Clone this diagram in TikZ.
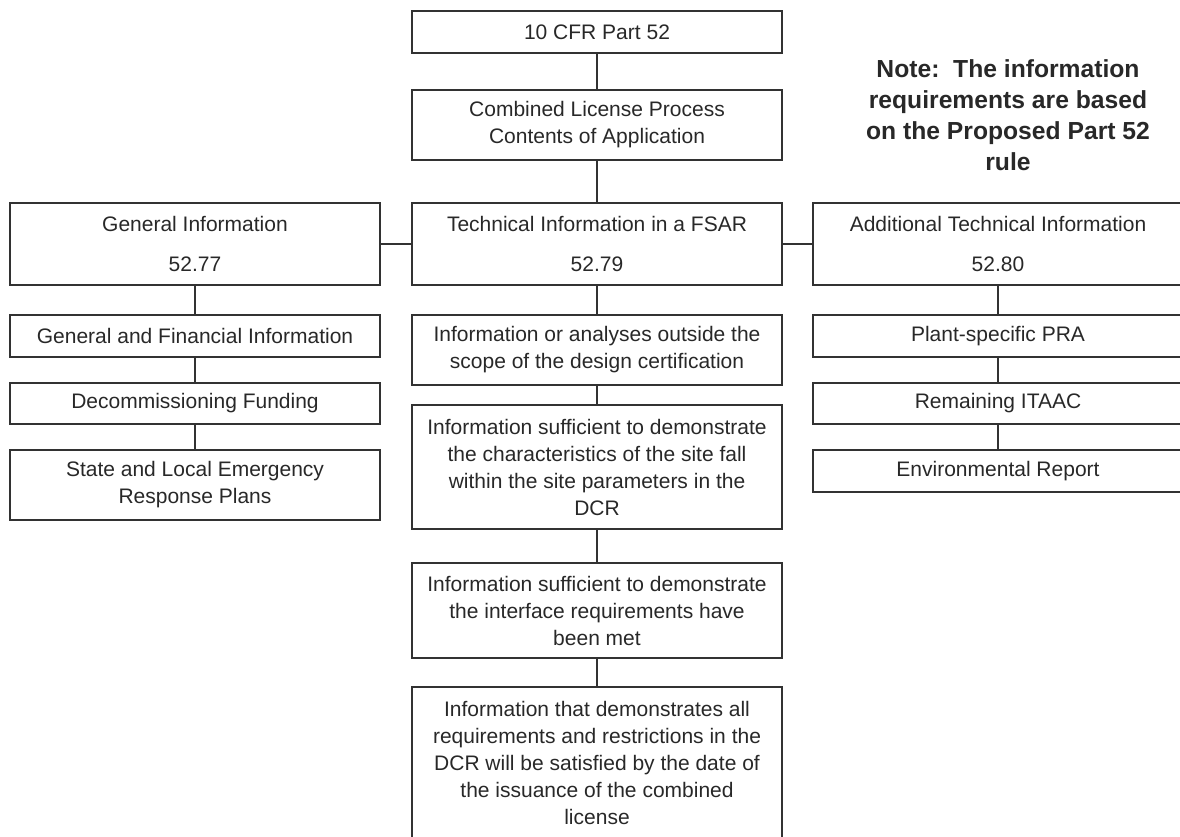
\documentclass[tikz,border=0pt]{standalone}
\usepackage{fontspec}
\setmainfont{Liberation Sans}
\usetikzlibrary{positioning}
\definecolor{edge}{RGB}{50, 50, 50}
\definecolor{ink}{RGB}{40, 40, 40}

\tikzset{
    box/.style={draw=edge, line width=1pt, inner sep=0pt, minimum width=277.5pt, align=center, text=ink, font=\fontsize{15.75}{20.25}\selectfont},
    link/.style={draw=edge, line width=1pt},
}

\begin{document}
\begin{tikzpicture}[x=0.75pt, y=-0.75pt]
    \useasboundingbox (0,0) rectangle (1180,836);
    \clip (0,0) rectangle (1180,836);

    % top of the tree
    \node[box, minimum height=31.5pt] (cfr) at (597, 32) {10 CFR Part 52};
    \node[box, minimum height=52.5pt] (col) at (597, 125) {Combined License Process\\Contents of Application};

    % three main branches
    \node[box, minimum height=61.5pt] (gen) at (195, 244) {General Information\\[9.75pt]52.77};
    \node[box, minimum height=61.5pt] (tech) at (597, 244) {Technical Information in a FSAR\\[9.75pt]52.79};
    \node[box, minimum height=61.5pt] (add) at (998, 244) {Additional Technical Information\\[9.75pt]52.80};

    % left column
    \node[box, minimum height=31.5pt] (gen1) at (195, 336) {General and Financial Information};
    \node[box, minimum height=30.75pt] (gen2) at (195, 403.5) {Decommissioning Funding};
    \node[box, minimum height=52.5pt] (gen3) at (195, 485) {State and Local Emergency\\Response Plans};

    % middle column
    \node[box, minimum height=52.5pt] (tech1) at (597, 350) {Information or analyses outside the\\scope of the design certification};
    \node[box, minimum height=93pt] (tech2) at (597, 467) {Information sufficient to demonstrate\\the characteristics of the site fall\\within the site parameters in the\\DCR};
    \node[box, minimum height=71.25pt] (tech3) at (597, 610.5) {Information sufficient to demonstrate\\the interface requirements have\\been met};
    \node[box, minimum height=113.25pt] (tech4) at (597, 762.5) {Information that demonstrates all\\requirements and restrictions in the\\DCR will be satisfied by the date of\\the issuance of the combined\\license};

    % right column
    \node[box, minimum height=31.5pt] (add1) at (998, 336) {Plant-specific PRA};
    \node[box, minimum height=30.75pt] (add2) at (998, 403.5) {Remaining ITAAC};
    \node[box, minimum height=31.5pt] (add3) at (998, 471) {Environmental Report};

    % note
    \node[align=center, inner sep=0pt, text=ink, font=\bfseries\fontsize{18.5}{23.25}\selectfont] (note) at (1008, 115)
        {Note:\ \ The information\\requirements are based\\on the Proposed Part 52\\rule};

    \draw[link] (cfr) -- (col);
    \draw[link] (col) -- (tech);
    \draw[link] (gen) -- (tech);
    \draw[link] (tech) -- (add);
    \draw[link] (gen) -- (gen1);
    \draw[link] (gen1) -- (gen2);
    \draw[link] (gen2) -- (gen3);
    \draw[link] (tech) -- (tech1);
    \draw[link] (tech1) -- (tech2);
    \draw[link] (tech2) -- (tech3);
    \draw[link] (tech3) -- (tech4);
    \draw[link] (add) -- (add1);
    \draw[link] (add1) -- (add2);
    \draw[link] (add2) -- (add3);
\end{tikzpicture}
\end{document}
